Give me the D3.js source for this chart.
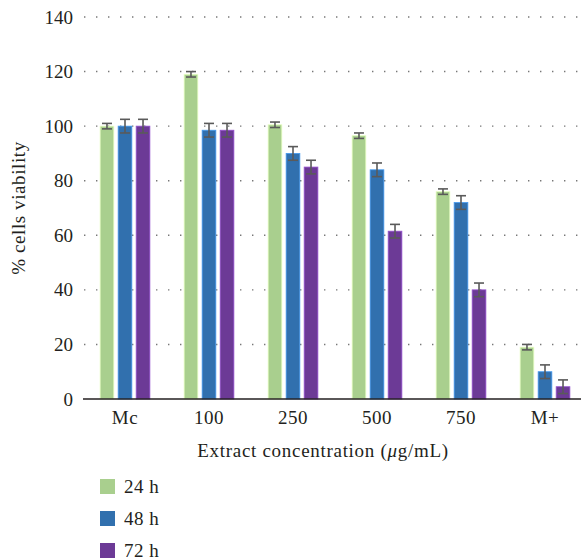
<!DOCTYPE html>
<html>
<head>
<meta charset="utf-8">
<script src="https://cdn.jsdelivr.net/npm/d3@7"></script>
<style>
  body { margin: 0; background: #fff; }
  svg { display: block; }
</style>
</head>
<body>
<div id="chart"></div>
<script>
var categories = ['Mc', '100', '250', '500', '750', 'M+'];
var seriesNames = ['24 h', '48 h', '72 h'];
var seriesColors = ['#a9cf8e', '#3170ae', '#6c3a96'];
var values24 = [100, 119, 100.5, 96.5, 76, 19];
var values48 = [100, 98.5, 90, 84, 72, 10];
var values72 = [100, 98.5, 85, 61.5, 40, 4.5];
var errors24 = [1, 1, 1, 1, 1, 1];
var errors48 = [2.5, 2.5, 2.5, 2.5, 2.5, 2.5];
var errors72 = [2.5, 2.5, 2.5, 2.5, 2.5, 2.5];
var yTicks = [0, 20, 40, 60, 80, 100, 120, 140];

var width = 581, height = 560;
var margin = { top: 17, left: 83, bottom: 161 };
var plotRight = 587;
var font = 'Liberation Serif, Times New Roman, serif';
var fontSize = 19;

var series = [values24, values48, values72].map(function(vals, s){
  var errs = [errors24, errors48, errors72][s];
  return categories.map(function(c, i){
    return { cat: c, s: s, v: vals[i], e: errs[i] };
  });
});

var svg = d3.select('#chart').append('svg')
  .attr('width', width)
  .attr('height', height);

var x = d3.scaleBand().domain(categories)
  .range([margin.left, plotRight]).paddingInner(0).paddingOuter(0);
var xs = d3.scaleBand().domain([0, 1, 2])
  .range([0, x.bandwidth()]).paddingInner(0.24).paddingOuter(0.95);
var y = d3.scaleLinear().domain([0, 140])
  .range([height - margin.bottom, margin.top]);

// dotted grid
svg.append('g').selectAll('line')
  .data(yTicks.filter(function(d){ return d > 0; }))
  .enter().append('line')
    .attr('x1', margin.left + 1)
    .attr('x2', width)
    .attr('y1', function(d){ return y(d); })
    .attr('y2', function(d){ return y(d); })
    .attr('stroke', '#777')
    .attr('stroke-width', 1.4)
    .attr('stroke-dasharray', '1.4,10.6');

// y axis labels
svg.append('g')
  .attr('transform', 'translate(' + (margin.left - 10) + ',0)')
  .call(d3.axisLeft(y).tickValues(yTicks).tickSize(0).tickPadding(0))
  .call(function(g){
    g.select('.domain').remove();
    g.selectAll('text')
      .attr('font-family', font)
      .attr('font-size', fontSize)
      .attr('fill', '#231f20');
  });

// bars
var groups = svg.append('g').selectAll('g')
  .data(series).enter().append('g');

groups.selectAll('rect')
  .data(function(d){ return d; })
  .enter().append('rect')
    .attr('x', function(d){ return x(d.cat) + xs(d.s); })
    .attr('y', function(d){ return y(d.v); })
    .attr('width', xs.bandwidth())
    .attr('height', function(d){ return y(0) - y(d.v); })
    .attr('fill', function(d){ return seriesColors[d.s]; })
    .attr('stroke', function(d){ return d3.color(seriesColors[d.s]).brighter(0.9); })
    .attr('stroke-width', 0.8);

// error bars
var capW = 10;
var err = groups.selectAll('g.err')
  .data(function(d){ return d; })
  .enter().append('g').attr('class', 'err')
    .attr('stroke', '#5a5a5a')
    .attr('stroke-width', 1.6);
err.append('line')
  .attr('x1', function(d){ return x(d.cat) + xs(d.s) + xs.bandwidth() / 2; })
  .attr('x2', function(d){ return x(d.cat) + xs(d.s) + xs.bandwidth() / 2; })
  .attr('y1', function(d){ return y(d.v + d.e); })
  .attr('y2', function(d){ return y(d.v - d.e); });
[1, -1].forEach(function(sign){
  err.append('line')
    .attr('x1', function(d){ return x(d.cat) + xs(d.s) + xs.bandwidth() / 2 - capW / 2; })
    .attr('x2', function(d){ return x(d.cat) + xs(d.s) + xs.bandwidth() / 2 + capW / 2; })
    .attr('y1', function(d){ return y(d.v + sign * d.e); })
    .attr('y2', function(d){ return y(d.v + sign * d.e); });
});

// x axis
svg.append('g')
  .attr('transform', 'translate(0,' + y(0) + ')')
  .call(d3.axisBottom(x).tickSize(0).tickPadding(12))
  .call(function(g){
    g.select('.domain').attr('stroke', '#231f20').attr('stroke-width', 1.4)
      .attr('d', 'M' + margin.left + ',0H' + width);
    g.selectAll('text')
      .attr('font-family', font)
      .attr('font-size', fontSize)
      .attr('letter-spacing', 0.5)
      .attr('fill', '#231f20');
  });

// axis titles
var xTitle = svg.append('text')
  .attr('x', 323)
  .attr('y', 457)
  .attr('text-anchor', 'middle')
  .attr('font-family', font)
  .attr('font-size', fontSize)
  .attr('letter-spacing', 0.7)
  .attr('fill', '#231f20');
xTitle.append('tspan').text('Extract concentration (');
xTitle.append('tspan').attr('font-style', 'italic').text('\u03bc');
xTitle.append('tspan').text('g/mL)');

svg.append('text')
  .attr('transform', 'translate(25,' + y(70) + ') rotate(-90)')
  .attr('text-anchor', 'middle')
  .attr('font-family', font)
  .attr('font-size', fontSize)
  .attr('letter-spacing', 0.6)
  .attr('fill', '#231f20')
  .text('% cells viability');

// legend
var legend = svg.append('g').attr('transform', 'translate(100,479)');
var item = legend.selectAll('g').data(seriesNames).enter().append('g')
  .attr('transform', function(d, i){ return 'translate(0,' + (i * 32) + ')'; });
item.append('rect')
  .attr('width', 15).attr('height', 15)
  .attr('fill', function(d, i){ return seriesColors[i]; });
item.append('text')
  .attr('x', 24).attr('y', 14)
  .attr('font-family', font)
  .attr('font-size', fontSize)
  .attr('letter-spacing', 0.5)
  .attr('fill', '#231f20')
  .text(function(d){ return d; });
</script>
</body>
</html>
